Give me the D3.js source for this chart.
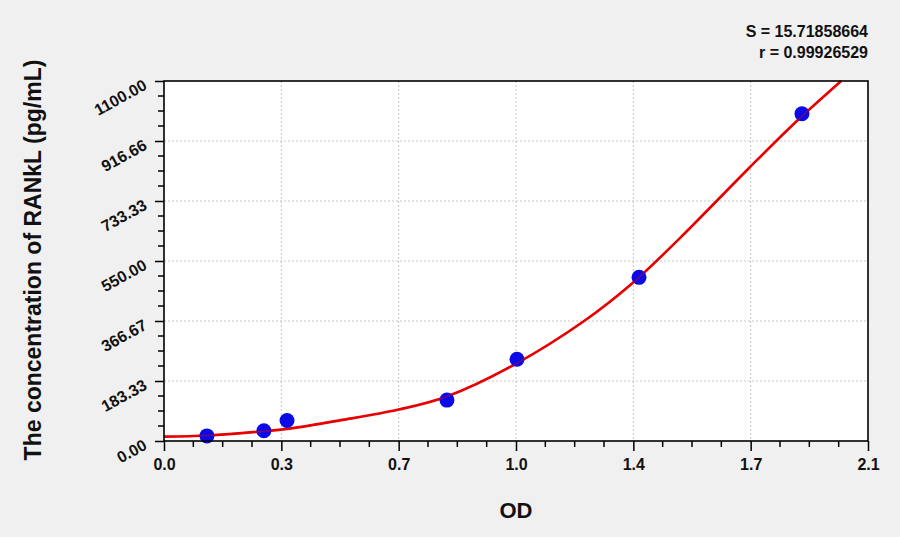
<!DOCTYPE html>
<html>
<head>
<meta charset="utf-8">
<script src="https://cdn.jsdelivr.net/npm/d3@7"></script>
<style>
  body { margin: 0; background: #f0f0f0; }
  svg { display: block; font-family: "Liberation Sans", Arial, sans-serif; }
</style>
</head>
<body>
<div id="chart"></div>
<script>
"use strict";

// standards
var odValues = [0.128, 0.298, 0.367, 0.844, 1.053, 1.417, 1.903];
var concValues = [15.63, 31.25, 62.5, 125, 250, 500, 1000];

// fitted curve
var curveOd = [0, 0.13, 0.3, 0.367, 0.525, 0.7, 0.846, 1.048, 1.251, 1.397, 1.539, 1.746, 1.887, 2.02];
var curveConc = [13.5, 17, 30, 37, 63, 96, 137, 235, 365, 482, 620, 835, 977, 1100];

var xTickLabels = ["0.0", "0.3", "0.7", "1.0", "1.4", "1.7", "2.1"];
var yTickLabels = ["0.00", "183.33", "366.67", "550.00", "733.33", "916.66", "1100.00"];

var fitS = "S = 15.71858664";
var fitR = "r = 0.99926529";

var width = 900, height = 537;
var margin = { left: 164, right: 32, top: 81, bottom: 96 };
var plotW = width - margin.left - margin.right;
var plotH = height - margin.top - margin.bottom;

var svg = d3.select("#chart").append("svg")
    .attr("width", width)
    .attr("height", height);

var x = d3.scaleLinear().domain([0, 2.1]).range([0, plotW]);
var y = d3.scaleLinear().domain([0, 1100]).range([plotH, 0]);

var xMajor = xTickLabels.map((d, i) => i * 0.35);
var yMajor = yTickLabels.map((d, i) => i * 1100 / 6);
var xMinor = d3.range(0, 24).map(i => i * 0.35 / 4).filter((d, i) => i % 4 !== 0 && d < 2.1);
var yMinor = d3.range(0, 24).map(i => i * 1100 / 24).filter((d, i) => i % 4 !== 0);

var g = svg.append("g").attr("transform", "translate(" + [margin.left, margin.top] + ")");

g.append("rect")
    .attr("width", plotW)
    .attr("height", plotH)
    .attr("fill", "white");

// grid
g.append("g").selectAll("line")
    .data(xMajor.slice(1, -1))
    .enter().append("line")
    .attr("x1", d => x(d)).attr("x2", d => x(d))
    .attr("y1", 0).attr("y2", plotH)
    .attr("stroke", "#c4c4c4")
    .attr("stroke-dasharray", "2,2");

g.append("g").selectAll("line")
    .data(yMajor.slice(1, -1))
    .enter().append("line")
    .attr("y1", d => y(d)).attr("y2", d => y(d))
    .attr("x1", 0).attr("x2", plotW)
    .attr("stroke", "#c4c4c4")
    .attr("stroke-dasharray", "2,2");

// curve
var line = d3.line()
    .x((d, i) => x(curveOd[i]))
    .y((d, i) => y(curveConc[i]))
    .curve(d3.curveCatmullRom.alpha(0.5));

g.append("path")
    .datum(curveConc)
    .attr("d", line)
    .attr("fill", "none")
    .attr("stroke", "#e80000")
    .attr("stroke-width", 2.6);

// points
g.append("g").selectAll("circle")
    .data(odValues)
    .enter().append("circle")
    .attr("cx", d => x(d))
    .attr("cy", (d, i) => y(concValues[i]))
    .attr("r", 7.5)
    .attr("fill", "#0a0ae6");

g.append("path")
    .datum(curveConc)
    .attr("d", line)
    .attr("fill", "none")
    .attr("stroke", "#e80000")
    .attr("stroke-width", 1.6)
    .attr("stroke-opacity", 0.45);

// frame
g.append("rect")
    .attr("width", plotW)
    .attr("height", plotH)
    .attr("fill", "none")
    .attr("stroke", "black")
    .attr("stroke-width", 1.6);

// x axis
var xAxis = d3.axisBottom(x)
    .tickValues(xMajor)
    .tickSize(10)
    .tickPadding(8)
    .tickFormat((d, i) => xTickLabels[i]);

var xg = g.append("g")
    .attr("transform", "translate(0," + plotH + ")")
    .call(xAxis);

xg.append("g").selectAll("line")
    .data(xMinor)
    .enter().append("line")
    .attr("x1", d => x(d)).attr("x2", d => x(d))
    .attr("y1", 0).attr("y2", 6)
    .attr("stroke", "black")
    .attr("stroke-width", 1.5);

// y axis
var yAxis = d3.axisLeft(y)
    .tickValues(yMajor)
    .tickSize(9)
    .tickFormat((d, i) => yTickLabels[i]);

var yg = g.append("g").call(yAxis);

yg.append("g").selectAll("line")
    .data(yMinor)
    .enter().append("line")
    .attr("y1", d => y(d)).attr("y2", d => y(d))
    .attr("x1", 0).attr("x2", -6)
    .attr("stroke", "black")
    .attr("stroke-width", 1.5);

[xg, yg].forEach(function (ax) {
    ax.select(".domain").remove();
    ax.selectAll(".tick line").attr("stroke-width", 1.5);
    ax.selectAll("text")
        .attr("font-family", "Liberation Sans, Arial, sans-serif")
        .attr("font-size", 16)
        .attr("font-weight", "bold")
        .attr("fill", "#111");
});

yg.selectAll(".tick text")
    .attr("x", null)
    .attr("dy", null)
    .attr("text-anchor", "end")
    .attr("transform", "translate(-16,7) rotate(-29)");

// titles
svg.append("text")
    .attr("transform", "translate(41," + (margin.top + plotH / 2 - 1) + ") rotate(-90)")
    .attr("text-anchor", "middle")
    .attr("font-size", 23)
    .attr("font-weight", "bold")
    .attr("fill", "#111")
    .text("The concentration of RANkL (pg/mL)");

svg.append("text")
    .attr("x", margin.left + x(1.05))
    .attr("y", 518)
    .attr("text-anchor", "middle")
    .attr("font-size", 22)
    .attr("font-weight", "bold")
    .attr("fill", "#111")
    .text("OD");

svg.append("text")
    .attr("x", margin.left + plotW)
    .attr("y", 37)
    .attr("text-anchor", "end")
    .attr("font-size", 16)
    .attr("font-weight", "bold")
    .attr("fill", "#111")
    .text(fitS);

svg.append("text")
    .attr("x", margin.left + plotW)
    .attr("y", 58)
    .attr("text-anchor", "end")
    .attr("font-size", 16)
    .attr("font-weight", "bold")
    .attr("fill", "#111")
    .text(fitR);
</script>
</body>
</html>
